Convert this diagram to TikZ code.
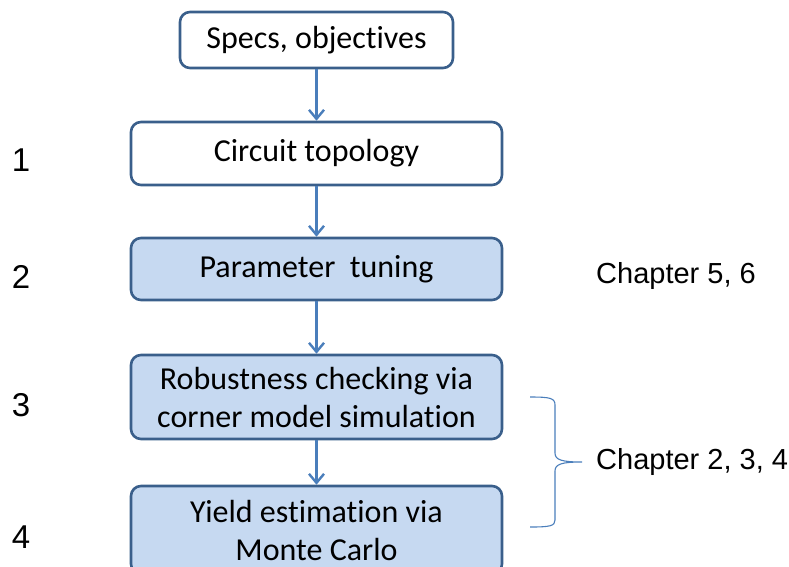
\documentclass[tikz,border=0pt]{standalone}
\usepackage{fontspec}
\setmainfont[Ligatures={NoCommon}]{Carlito}
\newfontfamily\helv{Liberation Sans}
\usetikzlibrary{arrows.meta}
\definecolor{boxline}{HTML}{3A5F8B}
\definecolor{boxfill}{HTML}{C6D9F1}
\definecolor{flowblue}{HTML}{4A7EBB}
\tikzset{
  stepbox/.style={draw=boxline, line width=2.6pt, rounded corners=10pt,
    align=center, inner sep=0pt, font=\fontsize{32}{38}\selectfont},
  plainbox/.style={stepbox, fill=white},
  shadedbox/.style={stepbox, fill=boxfill},
  flow/.style={draw=flowblue, line width=2.4pt,
    -{Straight Barb[length=9pt,width=15pt,line width=2.4pt]}},
  sidelabel/.style={font=\helv\fontsize{29}{34}\selectfont, inner sep=0pt},
  numlabel/.style={font=\helv\fontsize{33}{38}\selectfont, inner sep=0pt},
  bracestroke/.style={draw=flowblue, line width=1.1pt}
}
\begin{document}
\begin{tikzpicture}[x=1pt,y=-1pt]
  \useasboundingbox (0,0) rectangle (789,566);
  \clip (0,0) rectangle (789,566);

  % flow boxes
  \node[plainbox, minimum width=273pt, minimum height=56pt] (specs) at (316.5,40) {\raisebox{-2pt}{Specs, objectives}};
  \node[plainbox, minimum width=371pt, minimum height=63pt] (topo) at (316.5,153.5) {\raisebox{-2pt}{Circuit topology}};
  \node[shadedbox, minimum width=371pt, minimum height=62pt] (tune) at (316.5,269) {\raisebox{-2pt}{Parameter\ \ tuning}};
  \node[shadedbox, minimum width=371pt, minimum height=84pt] (robust) at (316.5,397) {Robustness checking via\\corner model simulation};
  \node[shadedbox, minimum width=371pt, minimum height=88pt] (yield) at (316.5,530) {Yield estimation via\\Monte Carlo};

  % connectors
  \draw[flow] (specs) -- (topo);
  \draw[flow] (topo) -- (tune);
  \draw[flow] (tune) -- (robust);
  \draw[flow] (robust) -- (yield);

  % step numbers
  \node[numlabel] (n1) at (21,160) {1};
  \node[numlabel] (n2) at (21,277) {2};
  \node[numlabel] (n3) at (21,405) {3};
  \node[numlabel] (n4) at (21,537) {4};

  % chapter notes
  \node[sidelabel, anchor=west] (ch56) at (596,276) {Chapter 5, 6};
  \coordinate (tip) at (582,462);
  \node[sidelabel, anchor=west] (ch234) at (596,462) {Chapter 2, 3, 4};

  % curly brace over steps 3 and 4
  \draw[bracestroke] (530,397) .. controls (550,397) and (555,398) .. (555,405)
    -- (555,453) .. controls (555,460) and (562,462) .. (tip)
    .. controls (562,462) and (555,464) .. (555,471)
    -- (555,520) .. controls (555,526) and (550,527) .. (530,527);
\end{tikzpicture}
\end{document}
